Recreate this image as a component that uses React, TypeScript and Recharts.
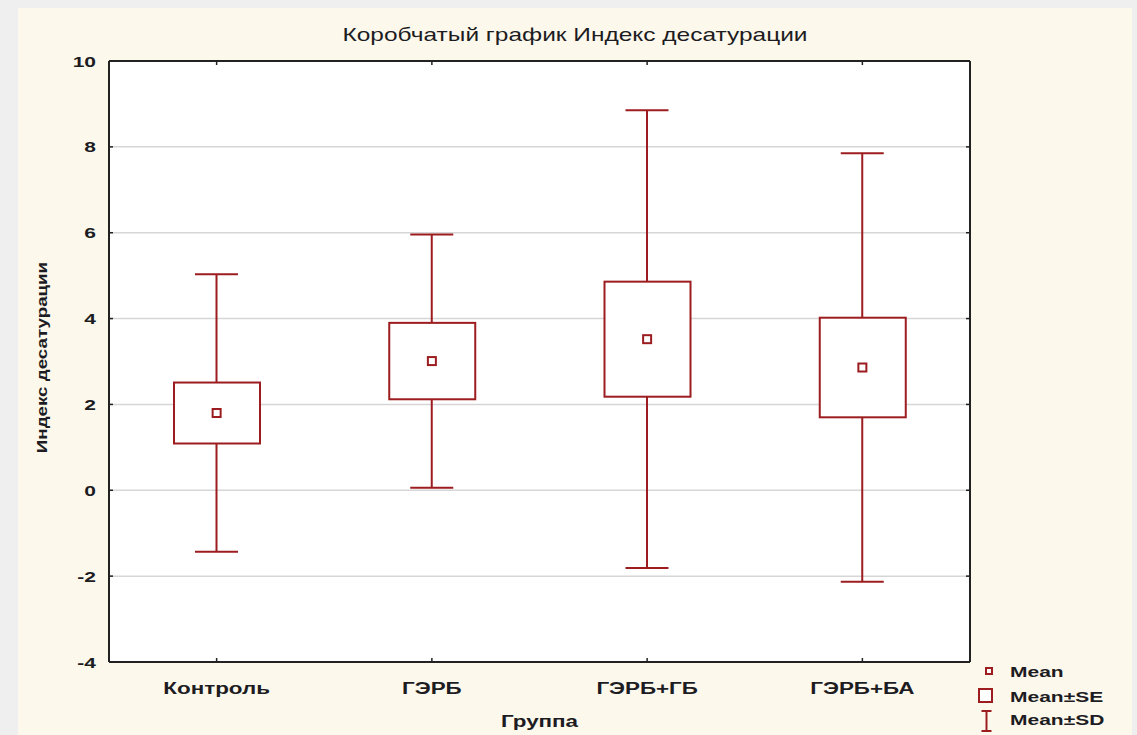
import React from 'react';
import { ComposedChart, Bar, Scatter, XAxis, YAxis, CartesianGrid, Legend } from 'recharts';

const groups = ['Контроль', 'ГЭРБ', 'ГЭРБ+ГБ', 'ГЭРБ+БА'];
const means = [1.8, 3.01, 3.52, 2.86];
const seValues = [0.71, 0.89, 1.34, 1.16];
const sdValues = [3.23, 2.95, 5.33, 4.99];
const yTicks = [-4, -2, 0, 2, 4, 6, 8, 10];
const legendLabels = ['Mean', 'Mean±SE', 'Mean±SD'];
const chartTitle = 'Коробчатый график Индекс десатурации';
const xTitle = 'Группа';
const yTitle = 'Индекс десатурации';

const data = groups.map((name, i) => ({
  name,
  mean: means[i],
  seRange: [means[i] - seValues[i], means[i] + seValues[i]],
  sdRange: [means[i] - sdValues[i], means[i] + sdValues[i]],
}));

const RED = '#9c1c20';
const TEXT = '#1c1c22';
const AXIS = '#222';
const FONT = '"Liberation Sans", Arial, sans-serif';
const CHART_W = 1114;
const CHART_H = 727;

function SText(props: any) {
  const { x, y, anchor = 'middle', size = 15, weight = 700, rotate = 0, stretch = 1.4, children } = props;
  const t = `translate(${x},${y})` + (rotate ? ` rotate(${rotate})` : '') + ` scale(${stretch},1)`;
  return (
    <text transform={t} x={0} y={0} textAnchor={anchor} fontFamily={FONT} fontSize={size} fontWeight={weight} fill={TEXT}>
      {children}
    </text>
  );
}

const XTickBottom = (p: any) => (
  <g>
    <line x1={p.x} y1={p.y} x2={p.x} y2={p.y - 4} stroke={AXIS} strokeWidth={1.5} />
    <SText x={p.x} y={p.y + 32} size={16}>{p.payload.value}</SText>
  </g>
);
const XTickTop = (p: any) => <line x1={p.x} y1={p.y} x2={p.x} y2={p.y + 4} stroke={AXIS} strokeWidth={1.5} />;
const YTickLeft = (p: any) => (
  <g>
    <line x1={p.x} y1={p.y} x2={p.x + 4} y2={p.y} stroke={AXIS} strokeWidth={1.5} />
    <SText x={p.x - 13} y={p.y + 5.5} anchor="end">{p.payload.value}</SText>
  </g>
);
const YTickRight = (p: any) => <line x1={p.x - 4} y1={p.y} x2={p.x} y2={p.y} stroke={AXIS} strokeWidth={1.5} />;

const WhiskerShape = (p: any) => {
  const { x, y, width, height } = p;
  const top = Math.min(y, y + height);
  const bot = Math.max(y, y + height);
  const cx = x + width / 2;
  return (
    <g stroke={RED} strokeWidth={2} fill="none">
      <line x1={cx} y1={top} x2={cx} y2={bot} />
      <line x1={x} y1={top} x2={x + width} y2={top} />
      <line x1={x} y1={bot} x2={x + width} y2={bot} />
    </g>
  );
};
const BoxShape = (p: any) => (
  <rect x={p.x} y={Math.min(p.y, p.y + p.height)} width={p.width} height={Math.abs(p.height)} fill="#fff" stroke={RED} strokeWidth={2} />
);
const MeanShape = (p: any) => (
  <rect x={p.cx - 4} y={p.cy - 4} width={8} height={8} fill="#fff" stroke={RED} strokeWidth={2} />
);

const LegendBox = () => (
  <svg width={160} height={76} style={{ display: 'block', overflow: 'visible' }}>
    <rect x={13} y={8} width={6} height={6} fill="#fff" stroke={RED} strokeWidth={2} />
    <rect x={6} y={29} width={13} height={13} fill="#fff" stroke={RED} strokeWidth={2} />
    <g stroke={RED} strokeWidth={2}>
      <line x1={13.5} y1={51} x2={13.5} y2={71} />
      <line x1={8.5} y1={51} x2={18.5} y2={51} />
      <line x1={8.5} y1={71} x2={18.5} y2={71} />
    </g>
    <SText x={37} y={17} anchor="start">{legendLabels[0]}</SText>
    <SText x={37} y={42} anchor="start">{legendLabels[1]}</SText>
    <SText x={37} y={65} anchor="start">{legendLabels[2]}</SText>
  </svg>
);

export default function App() {
  return (
    <div style={{ position: 'fixed', left: 0, top: 0, width: 1137, height: 735, background: '#efefef', overflow: 'hidden' }}>
      <div style={{ position: 'absolute', left: 18, top: 8, width: CHART_W, height: CHART_H, background: '#fdf8ec' }}>
        <ComposedChart width={CHART_W} height={CHART_H} data={data} margin={{ top: 33, right: 152, bottom: 23, left: 0 }}>
          <CartesianGrid vertical={false} stroke="#d6d6d6" strokeWidth={1.5} fill="#ffffff" />
          <XAxis
            dataKey="name"
            height={50}
            tickSize={0}
            tickMargin={0}
            tickLine={false}
            axisLine={{ stroke: AXIS, strokeWidth: 2 }}
            tick={XTickBottom}
            interval={0}
            label={{
              content: (lp: any) => {
                const vb = lp.viewBox || { x: 91, y: 654, width: 861 };
                return <SText x={vb.x + vb.width / 2} y={vb.y + 65} size={16}>{xTitle}</SText>;
              },
            }}
          />
          <XAxis
            xAxisId="b"
            dataKey="name"
            orientation="top"
            height={20}
            tickSize={0}
            tickMargin={0}
            tickLine={false}
            axisLine={{ stroke: AXIS, strokeWidth: 2 }}
            tick={XTickTop}
            interval={0}
            label={{
              content: () => (
                <SText x={CHART_W / 2} y={33} size={17.5} weight={400}>{chartTitle}</SText>
              ),
            }}
          />
          <YAxis
            type="number"
            domain={[-4, 10]}
            ticks={yTicks}
            interval={0}
            width={91}
            tickSize={0}
            tickMargin={0}
            tickLine={false}
            axisLine={{ stroke: AXIS, strokeWidth: 2 }}
            tick={YTickLeft}
            allowDataOverflow
            label={{
              content: (lp: any) => {
                const vb = lp.viewBox || { x: 0, y: 53, width: 91, height: 601 };
                return <SText x={vb.x + 29} y={vb.y + vb.height / 2 - 4} rotate={-90} stretch={1.25}>{yTitle}</SText>;
              },
            }}
          />
          <YAxis
            yAxisId="r"
            orientation="right"
            type="number"
            domain={[-4, 10]}
            ticks={yTicks}
            interval={0}
            width={10}
            tickSize={0}
            tickMargin={0}
            tickLine={false}
            axisLine={{ stroke: AXIS, strokeWidth: 2 }}
            tick={YTickRight}
            allowDataOverflow
          />
          <Bar dataKey="sdRange" barSize={43} shape={WhiskerShape} isAnimationActive={false} />
          <Bar dataKey="seRange" xAxisId="b" barSize={86} shape={BoxShape} isAnimationActive={false} />
          <Scatter dataKey="mean" shape={MeanShape} isAnimationActive={false} />
          <Legend
            layout="vertical"
            align="center"
            verticalAlign="middle"
            wrapperStyle={{ left: 955, top: 652, width: 160, height: 76 }}
            content={() => <LegendBox />}
          />
        </ComposedChart>
      </div>
    </div>
  );
}
